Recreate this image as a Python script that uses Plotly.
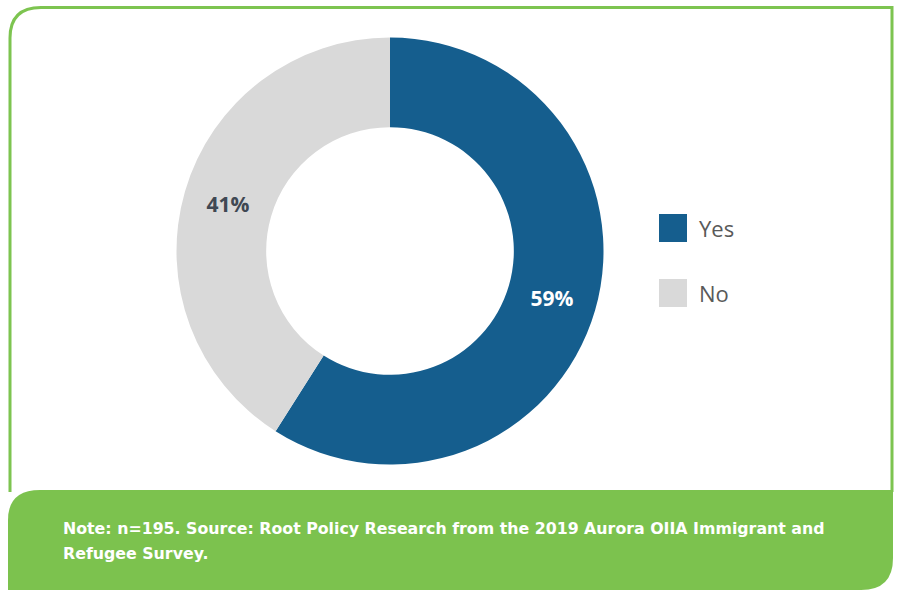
import plotly.graph_objects as go

labels = ["Yes", "No"]
values = [59, 41]
colors = ["#155e8e", "#d9d9d9"]
text_colors = ["#ffffff", "#404853"]
note_lines = ["Note: n=195. Source: Root Policy Research from the 2019 Aurora OIIA Immigrant and",
              "Refugee Survey."]

W, H = 900, 590
def px(x): return x / W
def py(y): return 1 - y / H

fig = go.Figure()
fig.add_trace(go.Pie(
    labels=labels, values=values, sort=False, direction="clockwise", rotation=0,
    hole=0.58, marker=dict(colors=colors, line=dict(width=0)),
    texttemplate="%{percent:.0%}", textposition="inside", insidetextorientation="horizontal",
    insidetextfont=dict(family="Open Sans", size=21, color=text_colors, weight="bold"),
    domain=dict(x=[px(176.5), px(603.5)], y=[py(464.5), py(37.5)]),
    showlegend=False, hoverinfo="label+percent",
))

shapes = []
# border outline
shapes.append(dict(type="path", xref="paper", yref="paper",
    path=f"M {px(10)},{py(492)} L {px(10)},{py(38)} Q {px(10)},{py(7.5)} {px(41)},{py(7.5)} L {px(892)},{py(7.5)} L {px(892)},{py(492)}",
    line=dict(color="#7dc450", width=3), fillcolor="rgba(0,0,0,0)"))
# footer band
shapes.append(dict(type="path", xref="paper", yref="paper",
    path=f"M {px(8)},{py(590)} L {px(8)},{py(520)} Q {px(8)},{py(490)} {px(40)},{py(490)} L {px(893)},{py(490)} L {px(893)},{py(558)} Q {px(893)},{py(590)} {px(861)},{py(590)} Z",
    line=dict(width=0), fillcolor="#7cc24e"))
# legend swatches
leg_y = [228, 293]
annotations = []
for lab, col, cy in zip(labels, colors, leg_y):
    shapes.append(dict(type="rect", xref="paper", yref="paper",
        x0=px(659), x1=px(687), y0=py(cy + 14), y1=py(cy - 14),
        fillcolor=col, line=dict(width=0)))
    annotations.append(dict(xref="paper", yref="paper", x=px(697), y=py(cy),
        text=lab, showarrow=False, xanchor="left", yanchor="middle",
        font=dict(family="Open Sans", size=22, color="#595959")))

for line, cy in zip(note_lines, [528, 553]):
    annotations.append(dict(xref="paper", yref="paper", x=px(61), y=py(cy),
        text=line, showarrow=False, xanchor="left", yanchor="middle", align="left",
        font=dict(family="DejaVu Sans", size=15.8, color="#ffffff", weight="bold")))

fig.update_layout(width=W, height=H, margin=dict(l=0, r=0, t=0, b=0),
    paper_bgcolor="#ffffff", plot_bgcolor="#ffffff",
    shapes=shapes, annotations=annotations)
fig.write_html("out.html", config={"displayModeBar": False},
    post_script="document.body.style.margin='0';document.body.style.overflow='hidden';")
